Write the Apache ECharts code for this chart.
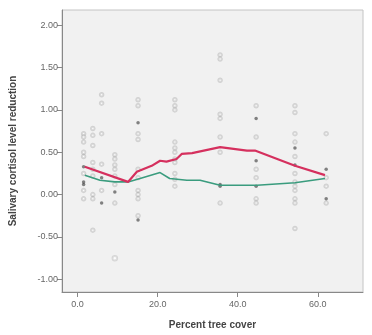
<!DOCTYPE html>
<html>
<head>
<meta charset="utf-8">
<script src="https://cdn.jsdelivr.net/npm/echarts@6/dist/echarts.min.js"></script>
<style>html,body{margin:0;padding:0;background:#fff;}#c{width:372px;height:335px;}</style>
</head>
<body>
<div id="c"></div>
<script>
// Tick labels
const xTicks = [0, 20, 40, 60];
const yTicks = [-1.0, -0.5, 0.0, 0.5, 1.0, 1.5, 2.0];

// Scatter: faint markers (x = percent tree cover, y = cortisol reduction)
const faintX = [1.5,1.5,1.5,1.5,1.5,1.5,1.5,1.5,
  3.8,3.8,3.8,3.8,3.8,3.8,3.8,3.8,3.8,
  6,6,6,6,6,
  9.3,9.3,9.3,9.3,9.3,9.3,9.3,
  15.1,15.1,15.1,15.1,15.1,15.1,15.1,15.1,15.1,15.1,
  24.3,24.3,24.3,24.3,24.3,24.3,24.3,24.3,24.3,24.3,24.3,
  35.6,35.6,35.6,35.6,35.6,35.6,35.6,35.6,
  44.6,44.6,44.6,44.6,44.6,44.6,
  54.3,54.3,54.3,54.3,54.3,54.3,54.3,54.3,54.3,54.3,54.3,54.3,
  62.1,62.1,62.1,62.1];
const faintY = [0.72,0.68,0.62,0.50,0.45,0.25,0.05,-0.05,
  0.78,0.70,0.58,0.38,0.30,0.22,0.00,-0.05,-0.42,
  1.18,1.08,0.72,0.36,0.05,
  0.47,0.42,0.35,0.30,0.22,0.12,-0.10,
  1.12,1.05,0.72,0.65,0.30,0.20,0.05,0.00,-0.05,-0.25,
  1.12,1.05,1.00,0.62,0.55,0.50,0.42,0.38,0.25,0.18,0.10,
  1.65,1.60,1.35,0.95,0.90,0.68,0.50,-0.10,
  1.05,0.68,0.30,0.20,-0.05,-0.10,
  1.05,0.97,0.72,0.62,0.45,0.25,0.15,0.10,0.05,-0.05,-0.10,-0.40,
  0.72,0.20,0.10,-0.10];
const faintExtraX = [9.3];
const faintExtraY = [-0.75];

// Scatter: dark markers
const darkX = [1.5,1.5,1.5,6,6,9.3,15.1,35.6,35.6,44.6,44.6,44.6,54.3,54.3,62.1,62.1,15.1];
const darkY = [0.33,0.15,0.12,0.20,-0.10,0.03,0.85,0.12,0.10,0.90,0.40,0.10,0.55,0.35,0.30,-0.05,-0.30];

// Fit lines
const redX = [1.8,12.6,14.8,18.5,20.6,22.2,24.7,26,28.6,35.6,42.3,44.3,54.3,61.8];
const redY = [0.33,0.15,0.27,0.34,0.40,0.39,0.42,0.48,0.49,0.56,0.52,0.52,0.34,0.23];
const greenX = [1.8,5.6,9.3,12.6,15.6,20.6,23,27.3,30.6,35.6,44.8,54.3,61.8];
const greenY = [0.23,0.17,0.15,0.15,0.19,0.26,0.19,0.17,0.17,0.11,0.11,0.14,0.19];

const zip = (a, b) => a.map((v, i) => [v, b[i]]);

const chart = echarts.init(document.getElementById('c'));
chart.setOption({
  backgroundColor: '#ffffff',
  animation: false,
  grid: {left: 62, top: 10, right: 9, bottom: 41, show: true,
    backgroundColor: '#f1f1f1', borderColor: '#c4c4c4', borderWidth: 1},
  xAxis: {
    type: 'value', min: -3.9, max: 71.3,
    name: 'Percent tree cover', nameLocation: 'middle', nameGap: 28,
    nameTextStyle: {fontFamily: 'Liberation Sans', fontWeight: 'bold', fontSize: 10, color: '#444'},
    axisLine: {show: true, onZero: false, lineStyle: {color: '#888'}},
    axisTick: {show: true, length: 5, customValues: xTicks, lineStyle: {color: '#888'}},
    axisLabel: {customValues: xTicks, formatter: v => v.toFixed(1), fontFamily: 'Liberation Sans', fontSize: 9, color: '#666', margin: 8},
    splitLine: {show: false}
  },
  yAxis: {
    type: 'value', min: -1.15, max: 2.18,
    name: 'Salivary cortisol level reduction', nameLocation: 'middle', nameGap: 44,
    nameTextStyle: {fontFamily: 'Liberation Sans', fontWeight: 'bold', fontSize: 10, color: '#444'},
    axisLine: {show: true, onZero: false, lineStyle: {color: '#888'}},
    axisTick: {show: true, length: 5, customValues: yTicks, lineStyle: {color: '#888'}},
    axisLabel: {customValues: yTicks, formatter: v => v.toFixed(2), fontFamily: 'Liberation Sans', fontSize: 9, color: '#666', margin: 4},
    splitLine: {show: false}
  },
  series: [
    {type: 'scatter', data: zip(faintX, faintY), symbol: 'emptyCircle', symbolSize: 3.5,
      itemStyle: {color: 'rgba(110,110,110,0.3)', borderWidth: 1}},
    {type: 'scatter', data: zip(faintExtraX, faintExtraY), symbol: 'emptyCircle', symbolSize: 4.5,
      itemStyle: {color: 'rgba(110,110,110,0.25)', borderWidth: 1}},
    {type: 'scatter', data: zip(darkX, darkY), symbolSize: 3.5,
      itemStyle: {color: 'rgba(40,40,40,0.7)'}},
    {type: 'line', data: zip(greenX, greenY), showSymbol: false, smooth: false,
      lineStyle: {color: '#3a9c7e', width: 1.6}},
    {type: 'line', data: zip(redX, redY), showSymbol: false, smooth: false,
      lineStyle: {color: '#d5305e', width: 2.2}}
  ]
});
</script>
</body>
</html>
